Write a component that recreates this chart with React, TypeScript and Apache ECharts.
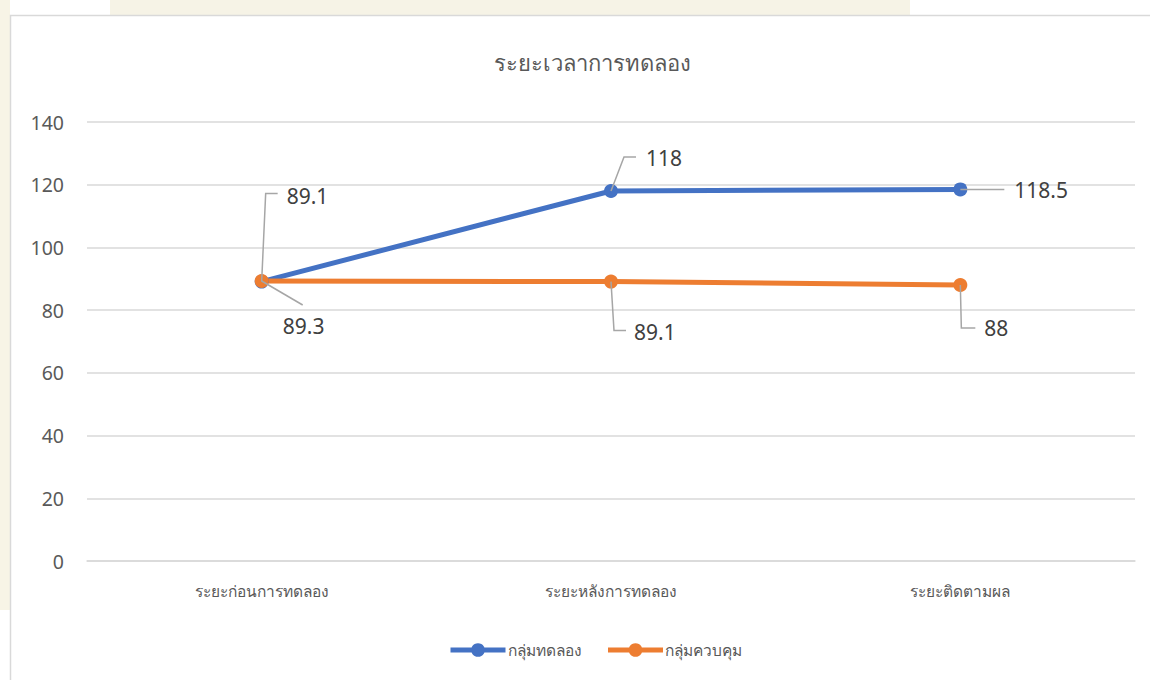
import React, { useEffect, useRef } from "react";
import * as echarts from "echarts";

const TITLE = "ระยะเวลาการทดลอง";
const CATEGORIES = ["ระยะก่อนการทดลอง", "ระยะหลังการทดลอง", "ระยะติดตามผล"];
const SERIES_NAMES = ["กลุ่มทดลอง", "กลุ่มควบคุม"];
const EXPERIMENT = [89.1, 118, 118.5];
const CONTROL = [89.3, 89.1, 88];
const Y_MIN = 0;
const Y_MAX = 140;
const Y_INTERVAL = 20;

const BLUE = "#4472C4";
const ORANGE = "#ED7D31";
const TEXT = "#595959";
const LABEL_TEXT = "#404040";
const GRID = "#d9d9d9";
const LEADER = "#a6a6a6";

// label offsets (px, relative to point centre): [dx, dy, align]
const LABEL_POS_BLUE: [number, number, string][] = [
  [25, -86, "left"],
  [35, -33, "left"],
  [54, 1, "left"],
];
const LABEL_POS_ORANGE: [number, number, string][] = [
  [42, 45, "center"],
  [23, 50, "left"],
  [24, 43, "left"],
];
// leader polyline offsets (px, relative to point centre)
const LEADER_BLUE: number[][][] = [
  [[0, 0], [4, -88], [16, -88]],
  [[0, 0], [13, -34], [25, -34]],
  [[0, 0], [44, 0]],
];
const LEADER_ORANGE: number[][][] = [
  [[0, 0], [41, 24]],
  [[0, 0], [3, 49], [15, 49]],
  [[0, 0], [1, 43], [15, 43]],
];

const FONT = "'Noto Sans', 'Open Sans', sans-serif";

function makeLabelLayout(pos: [number, number, string][]) {
  return (params: any) => {
    const r = params.rect;
    const cx = r.x + r.width / 2;
    const cy = r.y + r.height / 2;
    const o = pos[params.dataIndex] || [0, -20, "center"];
    return { x: cx + o[0], y: cy + o[1], align: o[2], verticalAlign: "middle" };
  };
}

function makeLeaderRender(offsets: number[][][]) {
  return (params: any, api: any) => {
    const p = api.coord([api.value(0), api.value(1)]);
    const offs = offsets[params.dataIndex] || [];
    return {
      type: "polyline",
      shape: { points: offs.map((o) => [p[0] + o[0], p[1] + o[1]]) },
      style: { stroke: LEADER, lineWidth: 1.5, fill: null },
      silent: true,
    };
  };
}

export default function App() {
  const ref = useRef<HTMLDivElement>(null);
  useEffect(() => {
    if (!ref.current) return;
    const chart = echarts.init(ref.current, null, { renderer: "svg" });
    const lineSeries = (name: string, values: number[], color: string, pos: [number, number, string][]) => ({
      name,
      type: "line",
      data: values,
      symbol: "circle",
      symbolSize: 14,
      z: 3,
      lineStyle: { color, width: 5 },
      itemStyle: { color },
      label: {
        show: true,
        formatter: "{c}",
        fontSize: 21,
        color: LABEL_TEXT,
        fontFamily: FONT,
      },
      labelLayout: makeLabelLayout(pos),
      emphasis: { disabled: true },
    });
    const leaderSeries = (values: number[], offsets: number[][][]) => ({
      type: "custom",
      data: values.map((v, i) => [i, v]),
      encode: { x: 0, y: 1 },
      renderItem: makeLeaderRender(offsets),
      z: 5,
      silent: true,
      tooltip: { show: false },
    });
    chart.setOption({
      animation: false,
      backgroundColor: "#ffffff",
      textStyle: { fontFamily: FONT },
      graphic: [
        { type: "rect", z: -10, shape: { x: 110, y: 0, width: 800, height: 15 }, style: { fill: "#f6f3e6" } },
        { type: "rect", z: -10, shape: { x: 0, y: 0, width: 10, height: 610 }, style: { fill: "#f7f4e6" } },
        { type: "rect", z: -9, shape: { x: 10.5, y: 15.5, width: 1160, height: 700 }, style: { fill: "#ffffff", stroke: GRID, lineWidth: 1.5 } },
      ],
      title: {
        text: TITLE,
        left: 587,
        top: 46,
        textAlign: "center",
        textStyle: { fontSize: 22, fontWeight: "normal", color: TEXT, fontFamily: FONT },
      },
      legend: {
        data: SERIES_NAMES,
        left: 443,
        top: 637,
        itemWidth: 55,
        itemHeight: 17,
        itemGap: 24,
        lineStyle: { width: 5 },
        textStyle: { fontSize: 15.5, color: TEXT, fontFamily: FONT, padding: [0, 0, 0, -3] },
      },
      grid: { left: 87, right: 15, top: 122, bottom: 119, containLabel: false },
      xAxis: {
        type: "category",
        data: CATEGORIES,
        boundaryGap: true,
        axisLine: { show: true, lineStyle: { color: GRID, width: 1.5 } },
        axisTick: { show: false },
        axisLabel: { fontSize: 15.5, color: TEXT, margin: 22, fontFamily: FONT },
      },
      yAxis: {
        type: "value",
        min: Y_MIN,
        max: Y_MAX,
        interval: Y_INTERVAL,
        axisLine: { show: false },
        axisTick: { show: false },
        axisLabel: { fontSize: 19.5, color: TEXT, margin: 23, fontFamily: FONT },
        splitLine: { lineStyle: { color: GRID, width: 1.5 } },
      },
      series: [
        lineSeries(SERIES_NAMES[0], EXPERIMENT, BLUE, LABEL_POS_BLUE),
        lineSeries(SERIES_NAMES[1], CONTROL, ORANGE, LABEL_POS_ORANGE),
        leaderSeries(EXPERIMENT, LEADER_BLUE),
        leaderSeries(CONTROL, LEADER_ORANGE),
      ],
    });
    return () => chart.dispose();
  }, []);
  return (
    <div
      ref={ref}
      style={{ position: "fixed", left: 0, top: 0, width: 1150, height: 680 }}
    />
  );
}
